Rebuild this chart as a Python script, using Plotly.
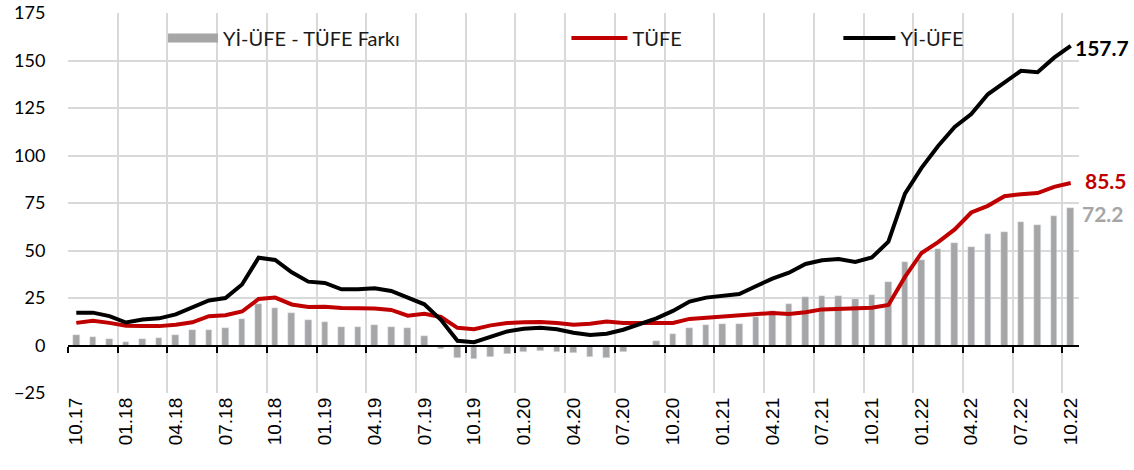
import plotly.graph_objects as go

# monthly, 10.17 .. 10.22
months = [
    "10.17", "11.17", "12.17", "01.18", "02.18", "03.18", "04.18", "05.18", "06.18", "07.18",
    "08.18", "09.18", "10.18", "11.18", "12.18", "01.19", "02.19", "03.19", "04.19", "05.19",
    "06.19", "07.19", "08.19", "09.19", "10.19", "11.19", "12.19", "01.20", "02.20", "03.20",
    "04.20", "05.20", "06.20", "07.20", "08.20", "09.20", "10.20", "11.20", "12.20", "01.21",
    "02.21", "03.21", "04.21", "05.21", "06.21", "07.21", "08.21", "09.21", "10.21", "11.21",
    "12.21", "01.22", "02.22", "03.22", "04.22", "05.22", "06.22", "07.22", "08.22", "09.22",
    "10.22",
]

tufe = [
    11.9, 13.0, 11.9, 10.4, 10.3, 10.2, 10.9, 12.2, 15.4, 15.9,
    17.9, 24.5, 25.2, 21.6, 20.3, 20.4, 19.7, 19.7, 19.5, 18.7,
    15.7, 16.7, 15.0, 9.3, 8.6, 10.6, 11.8, 12.2, 12.4, 11.9,
    10.9, 11.4, 12.6, 11.8, 11.8, 11.8, 11.9, 14.0, 14.6, 15.0,
    15.6, 16.2, 17.1, 16.6, 17.5, 19.0, 19.3, 19.6, 19.9, 21.3,
    36.1, 48.7, 54.4, 61.1, 70.0, 73.5, 78.6, 79.6, 80.2, 83.5,
    85.5,
]

yiufe = [
    17.3, 17.3, 15.5, 12.1, 13.7, 14.3, 16.4, 20.2, 23.7, 25.0,
    32.1, 46.2, 45.0, 38.5, 33.6, 32.9, 29.6, 29.6, 30.1, 28.7,
    25.0, 21.7, 13.5, 2.5, 1.7, 4.3, 7.4, 8.8, 9.3, 8.5,
    6.7, 5.5, 6.2, 8.3, 11.5, 14.3, 18.2, 23.1, 25.2, 26.2,
    27.1, 31.2, 35.2, 38.3, 42.9, 44.9, 45.5, 44.0, 46.3, 54.6,
    79.9, 93.5, 105.0, 115.0, 121.8, 132.2, 138.3, 144.6, 143.8, 151.5,
    157.7,
]

farki = [
    5.4, 4.3, 3.6, 1.7, 3.4, 4.1, 5.5, 8.0, 8.3, 9.1,
    14.2, 21.7, 19.8, 16.9, 13.3, 12.5, 9.9, 9.9, 10.6, 10.0,
    9.3, 5.0, -1.6, -6.8, -6.9, -6.3, -4.5, -3.3, -3.1, -3.4,
    -4.2, -5.9, -6.5, -3.4, -0.2, 2.6, 6.3, 9.1, 10.6, 11.2,
    11.5, 15.0, 18.1, 21.7, 25.4, 25.9, 26.3, 24.4, 26.4, 33.3,
    43.8, 44.8, 50.6, 53.8, 51.8, 58.7, 59.7, 65.0, 63.6, 68.0,
    72.2,
]

RED = "#c00000"
GREY = "#a6a6a6"
GRID = "#d9d9d9"

x = list(range(len(months)))
label_pos = x[::3]
label_txt = months[::3]
bounds = [i - 0.5 for i in range(0, len(months), 3)]
xrange = [-0.5, len(months) - 0.5]

fig = go.Figure()

fig.add_trace(go.Bar(x=x, y=farki, marker_color=GREY, width=0.4,
                     showlegend=False, name="Yİ-ÜFE - TÜFE Farkı"))
fig.add_trace(go.Scatter(x=x, y=tufe, mode="lines", line=dict(color=RED, width=4),
                         showlegend=False, name="TÜFE"))
fig.add_trace(go.Scatter(x=x, y=yiufe, mode="lines", line=dict(color="black", width=4),
                         showlegend=False, name="Yİ-ÜFE"))

# empty traces so the helper axes (zero line, month labels) get drawn
for ax in ("x2", "x3"):
    fig.add_trace(go.Scatter(x=x, y=[None] * len(x), xaxis=ax, mode="lines",
                             showlegend=False, hoverinfo="skip"))

# legend-only entries (wide symbols like the original)
fig.add_trace(go.Scatter(x=[None], y=[None], mode="lines", name="Yİ-ÜFE - TÜFE Farkı",
                         line=dict(color=GREY, width=9), legend="legend"))
fig.add_trace(go.Scatter(x=[None], y=[None], mode="lines", name="TÜFE",
                         line=dict(color=RED, width=4), legend="legend2"))
fig.add_trace(go.Scatter(x=[None], y=[None], mode="lines", name="Yİ-ÜFE",
                         line=dict(color="black", width=4), legend="legend3"))

# end-of-series labels
fig.add_annotation(x=x[-1], y=yiufe[-1], text="<b>%.1f</b>" % yiufe[-1], showarrow=False,
                   xanchor="left", xshift=2, yshift=-2, font=dict(color="black", size=21))
fig.add_annotation(x=x[-1], y=tufe[-1], text="<b>%.1f</b>" % tufe[-1], showarrow=False,
                   xanchor="left", xshift=12, yshift=3, font=dict(color=RED, size=21))
fig.add_annotation(x=x[-1], y=farki[-1], text="<b>%.1f</b>" % farki[-1], showarrow=False,
                   xanchor="left", xshift=9, yshift=-5, font=dict(color=GREY, size=21))

leg = dict(orientation="h", y=0.934, yanchor="middle", xanchor="left",
           bgcolor="rgba(0,0,0,0)", font=dict(family="Lato", size=20, color="#1a1a1a"),
           itemwidth=50)

fig.update_layout(
    width=1134, height=470,
    margin=dict(l=68, r=55, t=13, b=77),
    plot_bgcolor="white", paper_bgcolor="white",
    font=dict(family="Lato", size=18, color="black"),
    bargap=0,
    legend=dict(leg, x=0.094),
    legend2=dict(leg, x=0.493, itemwidth=56),
    legend3=dict(leg, x=0.762, itemwidth=52),
    # grid at category boundaries, carries the traces
    xaxis=dict(
        range=xrange, automargin=False,
        tickmode="array", tickvals=bounds, showticklabels=False,
        showgrid=True, gridcolor=GRID, gridwidth=2, zeroline=False, ticks="",
    ),
    # axis line with tick marks at y = 0
    xaxis2=dict(
        overlaying="x", anchor="free", position=25 / 200, range=xrange, automargin=False,
        tickmode="array", tickvals=bounds, ticks="outside", ticklen=6,
        tickwidth=2, tickcolor="black",
        showline=True, linecolor="black", linewidth=2,
        showticklabels=False, showgrid=False, zeroline=False,
    ),
    # month labels
    xaxis3=dict(
        overlaying="x", anchor="y", side="bottom", range=xrange, automargin=False,
        tickmode="array", tickvals=label_pos, ticktext=label_txt,
        tickangle=-90, showgrid=False, zeroline=False, ticks="",
        tickfont=dict(family="Liberation Sans", size=19, color="black"),
    ),
    yaxis=dict(
        range=[-25, 175], tickmode="linear", tick0=-25, dtick=25, automargin=False,
        showgrid=True, gridcolor=GRID, gridwidth=2, zeroline=False,
        ticks="outside", ticklen=0, tickcolor="white", ticklabelstandoff=18,
        tickfont=dict(family="Lato", size=18, color="black"),
    ),
)

# drop the default page margin so the figure fills the window
fig.write_html("out.html", config={"displayModeBar": False},
               post_script="document.body.style.margin = '0px';")
